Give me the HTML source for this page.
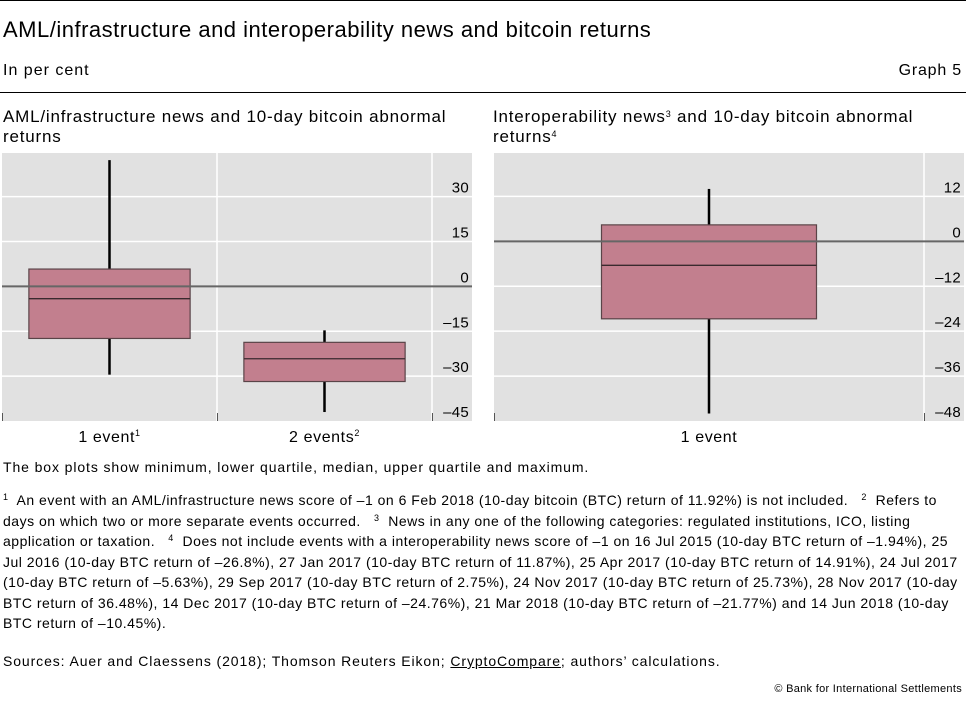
<!DOCTYPE html>
<html><head><meta charset="utf-8"><style>
body{margin:0;width:966px;height:707px;background:#fff;font-family:"Liberation Sans",sans-serif;color:#000;position:relative;overflow:hidden}
.a{position:absolute;white-space:nowrap}
.fn{font-size:14px;letter-spacing:0.5px;line-height:20.5px;left:3px;width:962px;white-space:normal}
sup{font-size:9px;vertical-align:5px;line-height:0}
</style></head><body>
<div class="a" style="left:0;top:0;width:966px;height:1px;background:#000"></div>
<div class="a" style="left:3px;top:17px;font-size:22px;letter-spacing:0.5px">AML/infrastructure and interoperability news and bitcoin returns</div>
<div class="a" style="left:3px;top:62px;font-size:16px;letter-spacing:1px">In per cent</div>
<div class="a" style="right:4px;top:62px;font-size:16px;letter-spacing:0.8px">Graph 5</div>
<div class="a" style="left:0;top:92px;width:966px;height:1px;background:#000"></div>
<div class="a" style="left:3px;top:107px;font-size:17px;letter-spacing:0.8px;line-height:20px">AML/infrastructure news and 10-day bitcoin abnormal<br>returns</div>
<div class="a" style="left:493px;top:107px;font-size:17px;letter-spacing:0.8px;line-height:20px">Interoperability news<sup>3</sup> and 10-day bitcoin abnormal<br>returns<sup>4</sup></div>
<svg class="a" style="left:0;top:0" width="966" height="460">
<g id="left"></g>
<g id="right"></g>
</svg>
<div class="a" style="left:3px;top:459px;font-size:14px;letter-spacing:0.9px">The box plots show minimum, lower quartile, median, upper quartile and maximum.</div>
<div class="a fn" style="top:490px"><sup>1</sup>&nbsp; An event with an AML/infrastructure news score of –1 on 6 Feb 2018 (10-day bitcoin (BTC) return of 11.92%) is not included. &nbsp;&nbsp;<sup>2</sup>&nbsp; Refers to days on which two or more separate events occurred. &nbsp;&nbsp;<sup>3</sup>&nbsp; News in any one of the following categories: regulated institutions, ICO, listing application or taxation. &nbsp;&nbsp;<sup>4</sup>&nbsp; Does not include events with a interoperability news score of –1 on 16 Jul 2015 (10-day BTC return of –1.94%), 25 Jul 2016 (10-day BTC return of –26.8%), 27 Jan 2017 (10-day BTC return of 11.87%), 25 Apr 2017 (10-day BTC return of 14.91%), 24 Jul 2017 (10-day BTC return of –5.63%), 29 Sep 2017 (10-day BTC return of 2.75%), 24 Nov 2017 (10-day BTC return of 25.73%), 28 Nov 2017 (10-day BTC return of 36.48%), 14 Dec 2017 (10-day BTC return of –24.76%), 21 Mar 2018 (10-day BTC return of –21.77%) and 14 Jun 2018 (10-day BTC return of –10.45%).</div>
<div class="a" style="left:3px;top:653px;font-size:14px;letter-spacing:0.9px">Sources: Auer and Claessens (2018); Thomson Reuters Eikon; <span style="text-decoration:underline">CryptoCompare</span>; authors’ calculations.</div>
<div class="a" style="right:4px;top:683px;font-size:11px;letter-spacing:0.3px">© Bank for International Settlements</div>
<script>
const leftCats=["1 event","2 events"];
const leftSup=["1","2"];
const leftMin=[-29.5,-42];
const leftQ1=[-17.4,-31.8];
const leftMed=[-4.1,-24.2];
const leftQ3=[5.8,-18.7];
const leftMax=[42.2,-14.7];
const leftTicks=[30,15,0,-15,-30,-45];
const rightCats=["1 event"];
const rightMin=[-46];
const rightQ1=[-20.7];
const rightMed=[-6.4];
const rightQ3=[4.4];
const rightMax=[14];
const rightTicks=[12,0,-12,-24,-36,-48];
const NS="http://www.w3.org/2000/svg";
function mk(p,t,a){const e=document.createElementNS(NS,t);for(const k in a)e.setAttribute(k,a[k]);p.appendChild(e);return e;}
function draw(g,cfg){
  const {x0,x1,gx,yTop,yBot,vTop,vBot,cats,sup,mn,q1,md,q3,mx,ticks,frac}=cfg;
  const y=v=>yTop+(vTop-v)/(vTop-vBot)*(yBot-yTop);
  const bg=mk(g,'rect',{x:x0,y:yTop,width:x1-x0,height:yBot-yTop,fill:'#e1e1e1'});
  
  const n=cats.length, bw=(gx-x0)/n;
  for(let i=1;i<=n;i++){const l=mk(g,'line',{x1:x0+bw*i,x2:x0+bw*i,y1:yTop,y2:yBot,stroke:'#fff','stroke-width':1.5});
    }
  ticks.forEach(t=>{
    if(t!==0&&t!==vBot){const l=mk(g,'line',{x1:x0,x2:x1,y1:y(t),y2:y(t),stroke:'#fff','stroke-width':1.5});
      }
    const tx=mk(g,'text',{x:x1-3,y:y(t)-4,'text-anchor':'end','font-size':15,'letter-spacing':0.3});
    tx.textContent=String(t).replace('-','–');
    
  });
  for(let i=0;i<=n;i++){const l=mk(g,'line',{x1:x0+bw*i+0.5,x2:x0+bw*i+0.5,y1:yBot-8,y2:yBot,stroke:'#555','stroke-width':1});
    }
  cats.forEach((c,i)=>{
    const cx=x0+bw*(i+0.5), hw=bw*frac;
    const w1=mk(g,'line',{x1:cx,x2:cx,y1:y(mx[i]),y2:y(q3[i]),stroke:'#000','stroke-width':2.5});
    
    const w2=mk(g,'line',{x1:cx,x2:cx,y1:y(q1[i]),y2:y(mn[i]),stroke:'#000','stroke-width':2.5});
    
    const b=mk(g,'rect',{x:cx-hw,y:y(q3[i]),width:2*hw,height:y(q1[i])-y(q3[i]),fill:'#c27f8e',stroke:'#5a4448','stroke-width':1.2});
    
    const m=mk(g,'line',{x1:cx-hw,x2:cx+hw,y1:y(md[i]),y2:y(md[i]),stroke:'#3a2a2e','stroke-width':1.3});
    
    const t=mk(g,'text',{x:cx,y:yBot+21,'text-anchor':'middle','font-size':16,'letter-spacing':0.6});
    t.textContent=c;
    if(sup&&sup[i]){const s=mk(t,'tspan',{'font-size':9,dy:-6});s.textContent=sup[i];}
    
  });
  const z=mk(g,'line',{x1:x0,x2:x1,y1:y(0),y2:y(0),stroke:'#666','stroke-width':2});
  
}
draw(document.getElementById('left'),{x0:2,x1:472,gx:432,yTop:153,yBot:421,vTop:44.6,vBot:-45,cats:leftCats,sup:leftSup,mn:leftMin,q1:leftQ1,md:leftMed,q3:leftQ3,mx:leftMax,ticks:leftTicks,frac:0.375});
draw(document.getElementById('right'),{x0:494,x1:964,gx:924,yTop:153,yBot:421,vTop:23.6,vBot:-48,cats:rightCats,sup:null,mn:rightMin,q1:rightQ1,md:rightMed,q3:rightQ3,mx:rightMax,ticks:rightTicks,frac:0.25});
</script>
</body></html>
